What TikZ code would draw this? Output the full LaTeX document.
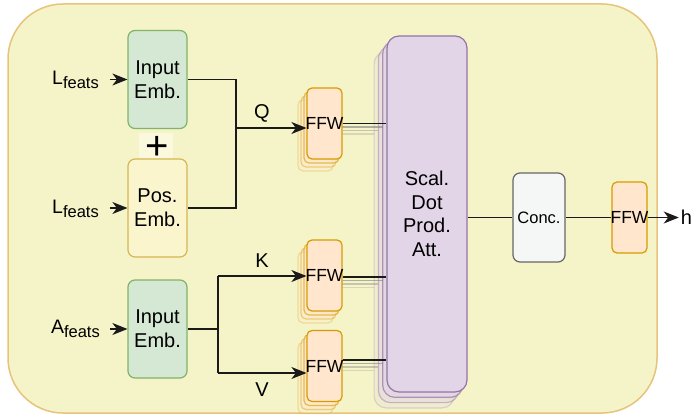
\documentclass[tikz,border=0pt]{standalone}
\usepackage{fontspec}
\setmainfont{Liberation Sans}
\usetikzlibrary{arrows.meta}
\definecolor{bgfill}{RGB}{245,243,200}
\definecolor{bgdraw}{RGB}{230,196,122}
\definecolor{gfill}{RGB}{213,232,212}
\definecolor{gdraw}{RGB}{130,179,102}
\definecolor{yfill}{RGB}{250,245,205}
\definecolor{ydraw}{RGB}{214,182,86}
\definecolor{ofill}{RGB}{255,230,204}
\definecolor{odraw}{RGB}{215,155,0}
\definecolor{pfill}{RGB}{225,213,231}
\definecolor{pdraw}{RGB}{150,115,166}
\definecolor{cfill}{RGB}{245,246,246}
\definecolor{cdraw}{RGB}{102,102,102}
\definecolor{lc}{RGB}{26,26,26}
\definecolor{plusbg}{RGB}{250,249,222}
\tikzset{
  box/.style={draw, line width=1.2pt, rounded corners=7pt, minimum width=59pt, minimum height=98pt, inner sep=0pt, align=center, font=\fontsize{20}{24}\selectfont},
  gbox/.style={box, fill=gfill, draw=gdraw},
  ybox/.style={box, fill=yfill, draw=ydraw},
  ffwbox/.style={draw=odraw, fill=ofill, line width=1.2pt, rounded corners=5pt, minimum width=35pt, minimum height=71pt, inner sep=0pt, font=\fontsize{17.5}{20}\selectfont},
  attbox/.style={draw=pdraw, fill=pfill, line width=1.2pt, rounded corners=12pt, minimum width=80pt, minimum height=356pt, inner sep=0pt, align=center, font=\fontsize{20}{23.5}\selectfont},
  lbl/.style={inner sep=0pt, font=\fontsize{20}{24}\selectfont},
  inlbl/.style={inner sep=0pt, font=\fontsize{19.5}{22}\selectfont},
  ln/.style={line width=1.3pt, draw=lc},
  fade/.style={line width=1.3pt, draw=gray},
  arr/.style={ln, -{Stealth[length=15pt, width=12pt, inset=4.5pt]}},
}
\newcommand{\subf}[1]{#1\raisebox{-4.5pt}{\fontsize{16.5}{20}\selectfont feats}}
\begin{document}
\begin{tikzpicture}[x=1pt, y=-1pt]
\useasboundingbox (0,0) rectangle (692,417);
% container
\node[draw=bgdraw, fill=bgfill, line width=1.5pt, rounded corners=55pt, minimum width=649pt, minimum height=409pt, inner sep=0pt] (frame) at (332.5,208.5) {};
% attention stack copies
\foreach \k/\op in {3/0.25,2/0.45,1/0.7}{
  \node[attbox, opacity=\op] (attc\k) at (427-4.3*\k, 214+5.3*\k) {};
}
% FFW stack copies and faded output lines
\foreach \n/\yc/\yo in {a/123.5/123.5, b/275.5/277, c/366/360}{
  \foreach \k/\op in {3/0.25,2/0.4,1/0.6}{
    \node[ffwbox, opacity=\op] (ffwc\n\k) at (324.5-3*\k, \yc+4*\k) {};
    \draw[fade, opacity=\op] (339-3*\k, \yo+3.5*\k) -- (387-4.3*\k, \yo+3.5*\k);
  }
}
% main nodes
\node[gbox] (in1) at (157.5,79.5) {Input\\Emb.};
\node[ybox] (pos) at (157.5,208) {Pos.\\Emb.};
\node[gbox] (in2) at (157.5,329) {Input\\Emb.};
\node[fill=plusbg, minimum width=34pt, minimum height=25pt, inner sep=0pt] (plusbg) at (156,145) {};
\node[inner sep=0pt, font=\fontsize{40}{40}\selectfont] (plus) at (157,147.5) {+};
\node[ffwbox] (ffw1) at (324.5,123.5) {\makebox[35pt]{FFW}};
\node[ffwbox] (ffw2) at (324.5,275.5) {\makebox[35pt]{FFW}};
\node[ffwbox] (ffw3) at (324.5,366) {\makebox[35pt]{FFW}};
\node[attbox] (att) at (427,214) {Scal.\\Dot\\Prod.\\Att.};
\node[draw=cdraw, fill=cfill, line width=1.2pt, rounded corners=7pt, minimum width=52pt, minimum height=89pt, inner sep=0pt, font=\fontsize{16.5}{20}\selectfont] (conc) at (539,217.5) {\makebox[52pt]{Conc.}};
\node[ffwbox] (ffw4) at (629.5,217.5) {\makebox[35pt]{FFW}};
% input labels
\node[inlbl, anchor=east] (l1) at (99,80) {\subf{L}};
\node[inlbl, anchor=east] (l2) at (99,209) {\subf{L}};
\node[inlbl, anchor=east] (a2) at (100,329) {\subf{A}};
\coordinate (s1) at (110,79.5);
\coordinate (s2) at (110,208);
\coordinate (s3) at (110,329);
\draw[arr] (s1) -- (in1.west);
\draw[arr] (s2) -- (pos.west);
\draw[arr] (s3) -- (in2.west);
% Q branch
\coordinate (j1a) at (236,79.5);
\coordinate (j1b) at (236,208);
\coordinate (jq) at (236,128);
\draw[ln] (in1.east) -- (j1a) -- (j1b) -- (pos.east);
\draw[arr] (jq) -- (jq -| ffw1.west);
\node[lbl] (q) at (262,113) {Q};
% K / V branch
\coordinate (j2) at (218,329);
\coordinate (j2k) at (218,276);
\coordinate (j2v) at (218,373);
\draw[ln] (in2.east) -- (j2);
\draw[ln] (j2k) -- (j2v);
\draw[arr] (j2k) -- (j2k -| ffw2.west);
\draw[arr] (j2v) -- (j2v -| ffw3.west);
\node[lbl] (k) at (262,261) {K};
\node[lbl] (v) at (262,390) {V};
% FFW -> attention
\draw[ln] (ffw1.east) -- (ffw1.east -| att.west);
\draw[ln] ([yshift=-1.5pt]ffw2.east) -- ([yshift=-1.5pt]ffw2.east -| att.west);
\draw[ln] ([yshift=6pt]ffw3.east) -- ([yshift=6pt]ffw3.east -| att.west);
% attention -> conc -> ffw -> h
\node[lbl, inner sep=2pt] (h) at (686.5,217.5) {h};
\draw[ln] (conc.west -| att.east) -- (conc.west);
\draw[ln] (conc.east) -- (ffw4.west);
\draw[arr] (ffw4.east) -- (h.west);
\end{tikzpicture}
\end{document}
